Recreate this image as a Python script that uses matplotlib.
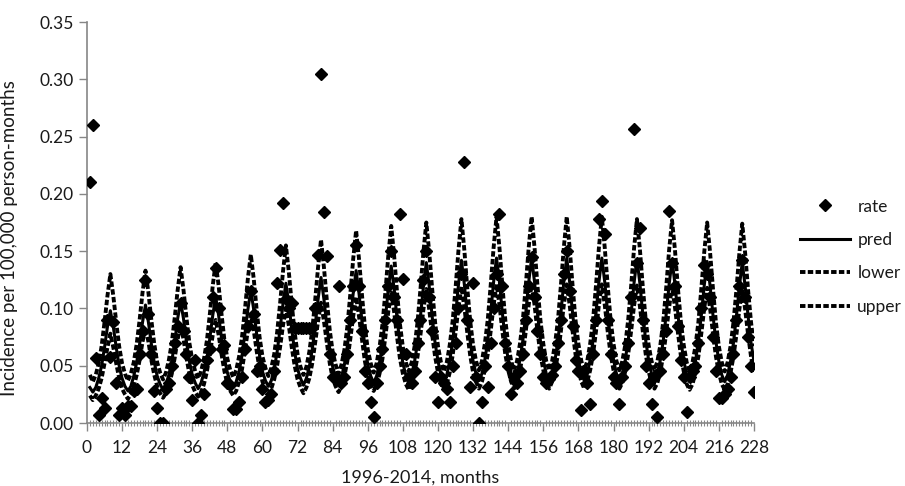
import matplotlib.pyplot as plt
from matplotlib.ticker import MultipleLocator, FormatStrFormatter

# months 1..228 (1996-2014)
months = list(range(1, 229))

rate = [
    0.210, 0.260, 0.057, 0.007, 0.022, 0.013, 0.090, 0.058, 0.088, 0.035, 0.007, 0.013,
    0.007, 0.015, 0.015, 0.028, 0.030, 0.060, 0.080, 0.125, 0.095, 0.060, 0.028, 0.013,
    0.000, 0.000, 0.030, 0.035, 0.050, 0.070, 0.085, 0.105, 0.080, 0.060, 0.040, 0.020,
    0.055, 0.000, 0.007, 0.025, 0.055, 0.065, 0.110, 0.135, 0.100, 0.065, 0.068, 0.035,
    0.033, 0.012, 0.012, 0.018, 0.040, 0.065, 0.085, 0.115, 0.095, 0.045, 0.050, 0.030,
    0.018, 0.020, 0.025, 0.045, 0.122, 0.151, 0.192, 0.108, 0.100, 0.105, 0.083, 0.083,
    0.083, 0.083, 0.083, 0.083, 0.083, 0.100, 0.147, 0.305, 0.184, 0.146, 0.060, 0.040,
    0.040, 0.120, 0.035, 0.040, 0.060, 0.090, 0.120, 0.155, 0.120, 0.080, 0.045, 0.035,
    0.018, 0.005, 0.035, 0.050, 0.065, 0.090, 0.120, 0.150, 0.110, 0.090, 0.182, 0.126,
    0.060, 0.040, 0.035, 0.045, 0.070, 0.090, 0.125, 0.150, 0.110, 0.080, 0.040, 0.018,
    0.040, 0.035, 0.030, 0.018, 0.050, 0.070, 0.100, 0.130, 0.228, 0.090, 0.031, 0.122,
    0.040, 0.000, 0.018, 0.050, 0.031, 0.070, 0.100, 0.130, 0.182, 0.120, 0.070, 0.050,
    0.025, 0.040, 0.035, 0.045, 0.060, 0.090, 0.120, 0.145, 0.110, 0.080, 0.060, 0.040,
    0.035, 0.038, 0.042, 0.050, 0.070, 0.090, 0.130, 0.150, 0.115, 0.085, 0.055, 0.045,
    0.011, 0.045, 0.035, 0.017, 0.060, 0.090, 0.178, 0.194, 0.165, 0.090, 0.060, 0.040,
    0.035, 0.017, 0.040, 0.050, 0.070, 0.110, 0.257, 0.140, 0.170, 0.090, 0.050, 0.035,
    0.017, 0.040, 0.005, 0.045, 0.060, 0.080, 0.185, 0.140, 0.120, 0.085, 0.055, 0.040,
    0.010, 0.040, 0.045, 0.050, 0.070, 0.100, 0.138, 0.130, 0.110, 0.075, 0.045, 0.022,
    0.022, 0.025, 0.030, 0.040, 0.060, 0.090, 0.120, 0.142, 0.110, 0.075, 0.050, 0.027,
]

pred = [
    0.031, 0.027, 0.031, 0.039, 0.050, 0.066, 0.084, 0.098, 0.084, 0.066, 0.050, 0.039,
    0.032, 0.028, 0.032, 0.041, 0.053, 0.069, 0.088, 0.103, 0.088, 0.069, 0.053, 0.041,
    0.034, 0.029, 0.034, 0.042, 0.054, 0.071, 0.091, 0.106, 0.091, 0.071, 0.054, 0.042,
    0.035, 0.030, 0.035, 0.044, 0.056, 0.074, 0.094, 0.110, 0.094, 0.074, 0.056, 0.044,
    0.036, 0.031, 0.036, 0.045, 0.059, 0.078, 0.099, 0.116, 0.099, 0.078, 0.059, 0.045,
    0.037, 0.032, 0.037, 0.047, 0.062, 0.082, 0.104, 0.122, 0.104, 0.082, 0.062, 0.047,
    0.039, 0.033, 0.039, 0.049, 0.064, 0.085, 0.108, 0.127, 0.108, 0.085, 0.064, 0.049,
    0.040, 0.034, 0.040, 0.051, 0.067, 0.089, 0.113, 0.133, 0.113, 0.089, 0.067, 0.051,
    0.041, 0.035, 0.041, 0.052, 0.069, 0.091, 0.117, 0.137, 0.117, 0.091, 0.069, 0.052,
    0.042, 0.036, 0.042, 0.054, 0.070, 0.093, 0.119, 0.140, 0.119, 0.093, 0.070, 0.054,
    0.042, 0.036, 0.042, 0.054, 0.071, 0.094, 0.121, 0.142, 0.121, 0.094, 0.071, 0.054,
    0.043, 0.037, 0.043, 0.055, 0.072, 0.096, 0.123, 0.144, 0.123, 0.096, 0.072, 0.055,
    0.043, 0.037, 0.043, 0.055, 0.072, 0.096, 0.123, 0.144, 0.123, 0.096, 0.072, 0.055,
    0.043, 0.037, 0.043, 0.055, 0.072, 0.096, 0.123, 0.144, 0.123, 0.096, 0.072, 0.055,
    0.043, 0.037, 0.043, 0.055, 0.072, 0.096, 0.123, 0.144, 0.123, 0.096, 0.072, 0.055,
    0.043, 0.037, 0.043, 0.055, 0.072, 0.095, 0.122, 0.143, 0.122, 0.095, 0.072, 0.055,
    0.043, 0.037, 0.043, 0.055, 0.072, 0.095, 0.121, 0.142, 0.121, 0.095, 0.072, 0.055,
    0.042, 0.036, 0.042, 0.054, 0.071, 0.094, 0.120, 0.141, 0.120, 0.094, 0.071, 0.054,
    0.042, 0.036, 0.042, 0.054, 0.070, 0.093, 0.119, 0.140, 0.119, 0.093, 0.070, 0.054,
]

lower = [
    0.024, 0.020, 0.024, 0.030, 0.039, 0.052, 0.066, 0.078, 0.066, 0.052, 0.039, 0.030,
    0.025, 0.021, 0.025, 0.032, 0.042, 0.055, 0.071, 0.083, 0.071, 0.055, 0.042, 0.032,
    0.026, 0.022, 0.026, 0.033, 0.043, 0.057, 0.073, 0.086, 0.073, 0.057, 0.043, 0.033,
    0.027, 0.023, 0.027, 0.034, 0.045, 0.060, 0.077, 0.090, 0.077, 0.060, 0.045, 0.034,
    0.028, 0.024, 0.028, 0.036, 0.047, 0.063, 0.081, 0.095, 0.081, 0.063, 0.047, 0.036,
    0.030, 0.025, 0.030, 0.038, 0.050, 0.066, 0.085, 0.100, 0.085, 0.066, 0.050, 0.038,
    0.031, 0.026, 0.031, 0.039, 0.052, 0.070, 0.089, 0.105, 0.089, 0.070, 0.052, 0.039,
    0.032, 0.027, 0.032, 0.041, 0.054, 0.073, 0.093, 0.110, 0.093, 0.073, 0.054, 0.041,
    0.033, 0.028, 0.033, 0.043, 0.056, 0.075, 0.097, 0.114, 0.097, 0.075, 0.056, 0.043,
    0.034, 0.029, 0.034, 0.044, 0.058, 0.077, 0.099, 0.117, 0.099, 0.077, 0.058, 0.044,
    0.034, 0.029, 0.034, 0.044, 0.059, 0.079, 0.101, 0.119, 0.101, 0.079, 0.059, 0.044,
    0.036, 0.030, 0.036, 0.046, 0.060, 0.080, 0.103, 0.121, 0.103, 0.080, 0.060, 0.046,
    0.036, 0.030, 0.036, 0.046, 0.060, 0.080, 0.103, 0.121, 0.103, 0.080, 0.060, 0.046,
    0.036, 0.030, 0.036, 0.046, 0.060, 0.080, 0.103, 0.121, 0.103, 0.080, 0.060, 0.046,
    0.036, 0.030, 0.036, 0.046, 0.060, 0.080, 0.103, 0.121, 0.103, 0.080, 0.060, 0.046,
    0.035, 0.030, 0.035, 0.045, 0.060, 0.080, 0.102, 0.120, 0.102, 0.080, 0.060, 0.045,
    0.035, 0.030, 0.035, 0.045, 0.059, 0.079, 0.101, 0.119, 0.101, 0.079, 0.059, 0.045,
    0.034, 0.029, 0.034, 0.044, 0.058, 0.078, 0.100, 0.118, 0.100, 0.078, 0.058, 0.044,
    0.034, 0.029, 0.034, 0.044, 0.058, 0.077, 0.099, 0.117, 0.099, 0.077, 0.058, 0.044,
]

upper = [
    0.042, 0.036, 0.042, 0.052, 0.067, 0.088, 0.111, 0.130, 0.111, 0.088, 0.067, 0.052,
    0.043, 0.037, 0.043, 0.053, 0.069, 0.090, 0.114, 0.133, 0.114, 0.090, 0.069, 0.053,
    0.044, 0.038, 0.044, 0.055, 0.070, 0.092, 0.116, 0.136, 0.116, 0.092, 0.070, 0.055,
    0.045, 0.039, 0.045, 0.056, 0.072, 0.095, 0.120, 0.140, 0.120, 0.095, 0.072, 0.056,
    0.046, 0.040, 0.046, 0.058, 0.075, 0.099, 0.126, 0.147, 0.126, 0.099, 0.075, 0.058,
    0.048, 0.041, 0.048, 0.060, 0.079, 0.104, 0.132, 0.155, 0.132, 0.104, 0.079, 0.060,
    0.049, 0.042, 0.049, 0.062, 0.081, 0.107, 0.136, 0.160, 0.136, 0.107, 0.081, 0.062,
    0.051, 0.043, 0.051, 0.064, 0.084, 0.112, 0.143, 0.168, 0.143, 0.112, 0.084, 0.064,
    0.052, 0.044, 0.052, 0.066, 0.086, 0.114, 0.146, 0.172, 0.146, 0.114, 0.086, 0.066,
    0.053, 0.045, 0.053, 0.067, 0.088, 0.117, 0.149, 0.175, 0.149, 0.117, 0.088, 0.067,
    0.053, 0.045, 0.053, 0.068, 0.089, 0.118, 0.151, 0.178, 0.151, 0.118, 0.089, 0.068,
    0.054, 0.046, 0.054, 0.069, 0.090, 0.120, 0.153, 0.180, 0.153, 0.120, 0.090, 0.069,
    0.054, 0.046, 0.054, 0.069, 0.090, 0.120, 0.153, 0.180, 0.153, 0.120, 0.090, 0.069,
    0.054, 0.046, 0.054, 0.069, 0.090, 0.120, 0.153, 0.180, 0.153, 0.120, 0.090, 0.069,
    0.054, 0.046, 0.054, 0.069, 0.090, 0.120, 0.153, 0.180, 0.153, 0.120, 0.090, 0.069,
    0.054, 0.046, 0.054, 0.068, 0.090, 0.119, 0.152, 0.178, 0.152, 0.119, 0.090, 0.068,
    0.054, 0.046, 0.054, 0.068, 0.089, 0.118, 0.151, 0.177, 0.151, 0.118, 0.089, 0.068,
    0.053, 0.045, 0.053, 0.067, 0.088, 0.117, 0.149, 0.175, 0.149, 0.117, 0.088, 0.067,
    0.053, 0.045, 0.053, 0.067, 0.088, 0.116, 0.148, 0.174, 0.148, 0.116, 0.088, 0.067,
]

plt.rcParams['font.family'] = ['Lato', 'DejaVu Sans']

fig = plt.figure(figsize=(9.05, 4.86), dpi=100)
ax = fig.add_axes([0.0961, 0.1296, 0.7370, 0.8251])

ax.plot(months, rate, linestyle='none', marker='D', markersize=6.5, color='black', label='rate', zorder=3)
ax.plot(months, pred, '-', color='black', lw=2.2, label='pred', zorder=4)
ax.plot(months, lower, color='black', lw=2.8, dashes=(1.4, 0.6), label='lower', zorder=4)
ax.plot(months, upper, color='black', lw=2.8, dashes=(1.4, 0.6), label='upper', zorder=4)

ax.set_xlim(0, 228)
ax.set_ylim(0, 0.35)
ax.xaxis.set_major_locator(MultipleLocator(12))
ax.xaxis.set_minor_locator(MultipleLocator(1))
ax.yaxis.set_major_locator(MultipleLocator(0.05))
ax.yaxis.set_major_formatter(FormatStrFormatter('%.2f'))

for s in ['top', 'right']:
    ax.spines[s].set_visible(False)
for s in ['left', 'bottom']:
    ax.spines[s].set_color('#868686')
    ax.spines[s].set_linewidth(1.2)

ax.tick_params(axis='both', which='major', direction='out', length=6, width=1, color='#868686',
               labelsize=12.5, labelcolor='#1a1a1a')
ax.tick_params(axis='x', which='minor', direction='inout', length=4, width=0.8, color='#868686')
ax.tick_params(axis='x', which='major', pad=6)

ax.set_xlabel('1996-2014, months', fontsize=13, color='#1a1a1a', labelpad=10)
ax.set_ylabel('Incidence per 100,000 person-months', fontsize=13.5, color='#1a1a1a')
ax.yaxis.set_label_coords(-0.104, 0.461)

leg = ax.legend(loc='center left', bbox_to_anchor=(1.069, 0.415), frameon=False, fontsize=12.5,
                borderpad=0, borderaxespad=0, handlelength=2.9, handletextpad=0.4,
                labelspacing=1.0)
for t in leg.get_texts():
    t.set_color('#1a1a1a')

fig.savefig('out.png', dpi=100)
